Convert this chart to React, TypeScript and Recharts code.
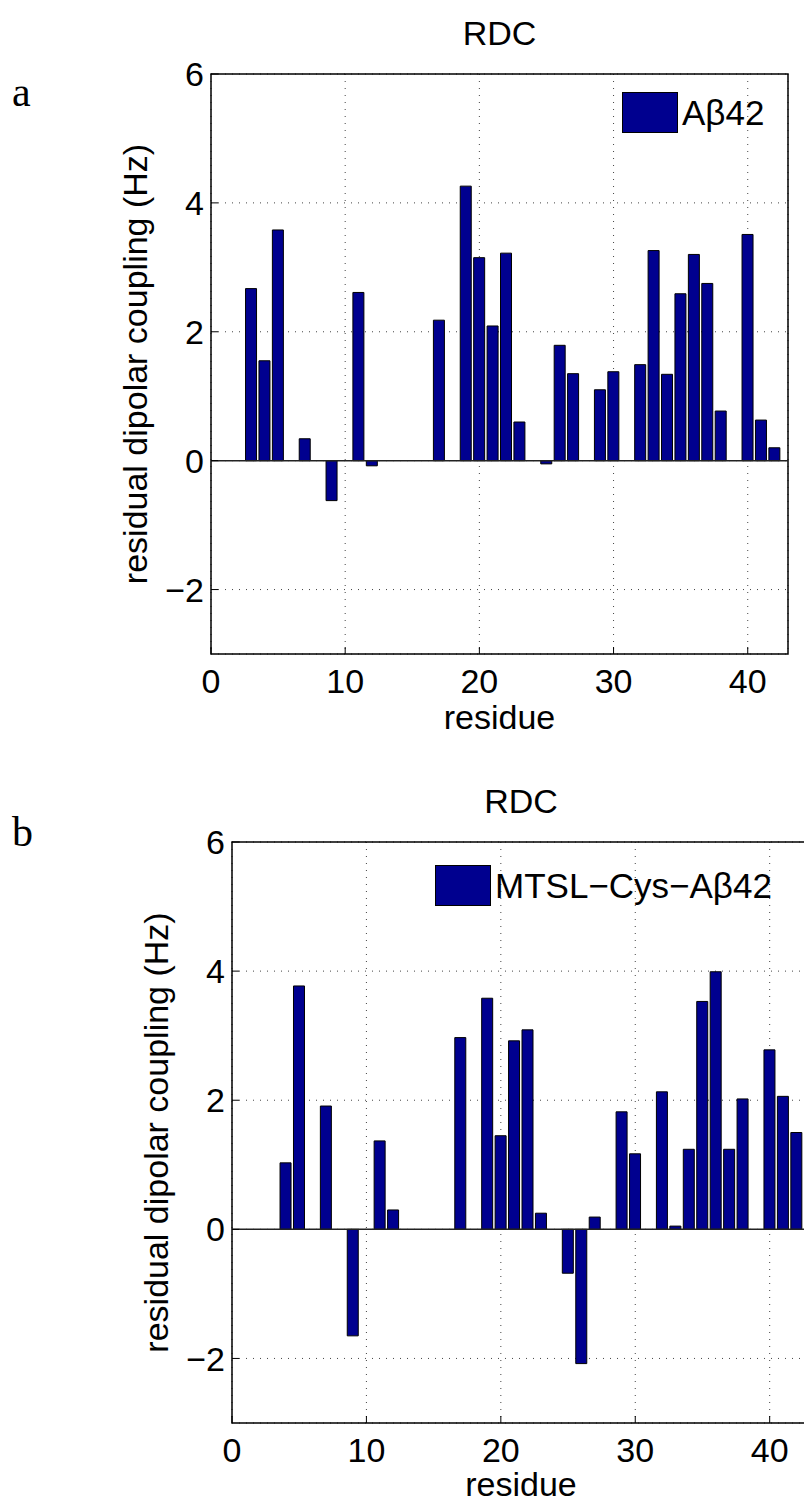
import { BarChart, Bar, XAxis, YAxis, CartesianGrid, ReferenceLine, ReferenceArea, Legend, Label } from 'recharts';

// residues and RDC values (Hz)
const residuesA = [3, 4, 5, 7, 9, 11, 12, 17, 19, 20, 21, 22, 23, 25, 26, 27, 29, 30, 32, 33, 34, 35, 36, 37, 38, 40, 41, 42];
const rdcA = [2.67, 1.55, 3.58, 0.34, -0.62, 2.61, -0.08, 2.18, 4.26, 3.15, 2.09, 3.22, 0.6, -0.05, 1.79, 1.35, 1.1, 1.38, 1.49, 3.26, 1.34, 2.59, 3.2, 2.75, 0.77, 3.51, 0.63, 0.2];

const residuesB = [3, 4, 5, 7, 9, 11, 12, 17, 19, 20, 21, 22, 23, 25, 26, 27, 29, 30, 32, 33, 34, 35, 36, 37, 38, 40, 41, 42];
const rdcB = [0, 1.03, 3.77, 1.91, -1.65, 1.37, 0.3, 2.97, 3.58, 1.45, 2.92, 3.09, 0.25, -0.68, -2.08, 0.19, 1.82, 1.17, 2.13, 0.05, 1.24, 3.53, 3.99, 1.24, 2.02, 2.78, 2.06, 1.5];

const xTicks = [0, 10, 20, 30, 40];
const yTicks = [-2, 0, 2, 4, 6];

const FONT = '"Liberation Sans", Arial, Helvetica, sans-serif';
const BAR_COLOR = '#00008f';
const AXIS_W = 60;

const fmtY = (v: number) => (v < 0 ? '\u2212' + Math.abs(v) : String(v));

type PanelProps = {
  residues: number[];
  values: number[];
  name: string;
  width: number;
  height: number;
  margin: { top: number; right: number; bottom: number; left: number };
  legendPos: { left: number; top: number };
  xLabelOffset: number;
};

function Panel({ residues, values, name, width, height, margin, legendPos, xLabelOffset }: PanelProps) {
  const data = residues.map((r, i) => ({ residue: r, rdc: values[i] }));
  const tickStyle = { fill: '#000', fontSize: 34, fontFamily: FONT };
  // margins given to the plot edge; axes take AXIS_W of it
  const m = { top: margin.top, right: margin.right, bottom: margin.bottom - AXIS_W, left: margin.left - AXIS_W };

  return (
    <BarChart width={width} height={height} data={data} margin={m}>
      <CartesianGrid stroke="#444" strokeDasharray="1 6" />
      <XAxis
        dataKey="residue"
        type="number"
        domain={[0, 43]}
        ticks={xTicks}
        interval={0}
        height={AXIS_W}
        axisLine={false}
        tickSize={-7}
        tickMargin={22}
        tickLine={{ stroke: '#000' }}
        tick={tickStyle}
        allowDataOverflow
      >
        <Label value="residue" position="bottom" offset={xLabelOffset} style={{ fontSize: 34, fontFamily: FONT, fill: '#000' }} />
      </XAxis>
      <YAxis
        type="number"
        domain={[-3, 6]}
        ticks={yTicks}
        interval={0}
        width={AXIS_W}
        axisLine={false}
        tickSize={-7}
        tickMargin={14}
        tickLine={{ stroke: '#000' }}
        tick={tickStyle}
        tickFormatter={fmtY}
        allowDataOverflow
      >
        <Label
          value="residual dipolar coupling (Hz)"
          angle={-90}
          position="center"
          dx={-46}
          style={{ fontSize: 34, fontFamily: FONT, fill: '#000', textAnchor: 'middle' }}
        />
      </YAxis>
      <ReferenceLine y={0} stroke="#222" strokeWidth={1.5} />
      <Legend
        layout="vertical"
        align="center"
        verticalAlign="middle"
        wrapperStyle={{ position: 'absolute', left: legendPos.left, top: legendPos.top, width: 'auto' }}
        content={() => (
          <div style={{ display: 'flex', alignItems: 'center', fontFamily: FONT, fontSize: 35, color: '#000' }}>
            <span style={{ display: 'inline-block', width: 54, height: 39, background: BAR_COLOR, border: '1px solid #000', marginRight: 4 }} />
            <span style={{ lineHeight: '40px' }}>{name}</span>
          </div>
        )}
      />
      <Bar dataKey="rdc" name={name} fill={BAR_COLOR} stroke="#000" strokeWidth={1} barSize={11} isAnimationActive={false} />
      <ReferenceArea x1={0} x2={43} y1={-3} y2={6} fill="none" stroke="#000" strokeWidth={1.5} ifOverflow="visible" />
    </BarChart>
  );
}

const textAbs = (left: number, top: number, size: number, family: string): React.CSSProperties => ({
  position: 'absolute',
  left,
  top,
  fontSize: size,
  lineHeight: `${size}px`,
  fontFamily: family,
  color: '#000',
  whiteSpace: 'nowrap',
});

export default function App() {
  return (
    <div style={{ position: 'absolute', left: 0, top: 0, width: 804, height: 1504, background: '#fff', overflow: 'hidden' }}>
      {/* panel a */}
      <div style={{ position: 'absolute', left: 0, top: 0, width: 804, height: 760 }}>
        <Panel
          residues={residuesA}
          values={rdcA}
          name={'A\u03b242'}
          width={804}
          height={760}
          margin={{ top: 74, right: 16, bottom: 106, left: 211 }}
          legendPos={{ left: 622, top: 92 }}
          xLabelOffset={-9}
        />
      </div>
      <div style={{ ...textAbs(0, 16, 34, FONT), width: 999, textAlign: 'center' }}>RDC</div>
      <div style={textAbs(12, 71, 42, '"Liberation Serif", "Times New Roman", serif')}>a</div>

      {/* panel b */}
      <div style={{ position: 'absolute', left: 0, top: 760, width: 804, height: 744, overflow: 'hidden' }}>
        <Panel
          residues={residuesB}
          values={rdcB}
          name={'MTSL\u2212Cys\u2212A\u03b242'}
          width={830}
          height={744}
          margin={{ top: 82, right: 20, bottom: 81, left: 232 }}
          legendPos={{ left: 435, top: 105 }}
          xLabelOffset={-11}
        />
      </div>
      <div style={{ ...textAbs(0, 784, 34, FONT), width: 1042, textAlign: 'center' }}>RDC</div>
      <div style={textAbs(12, 811, 42, '"Liberation Serif", "Times New Roman", serif')}>b</div>
    </div>
  );
}
